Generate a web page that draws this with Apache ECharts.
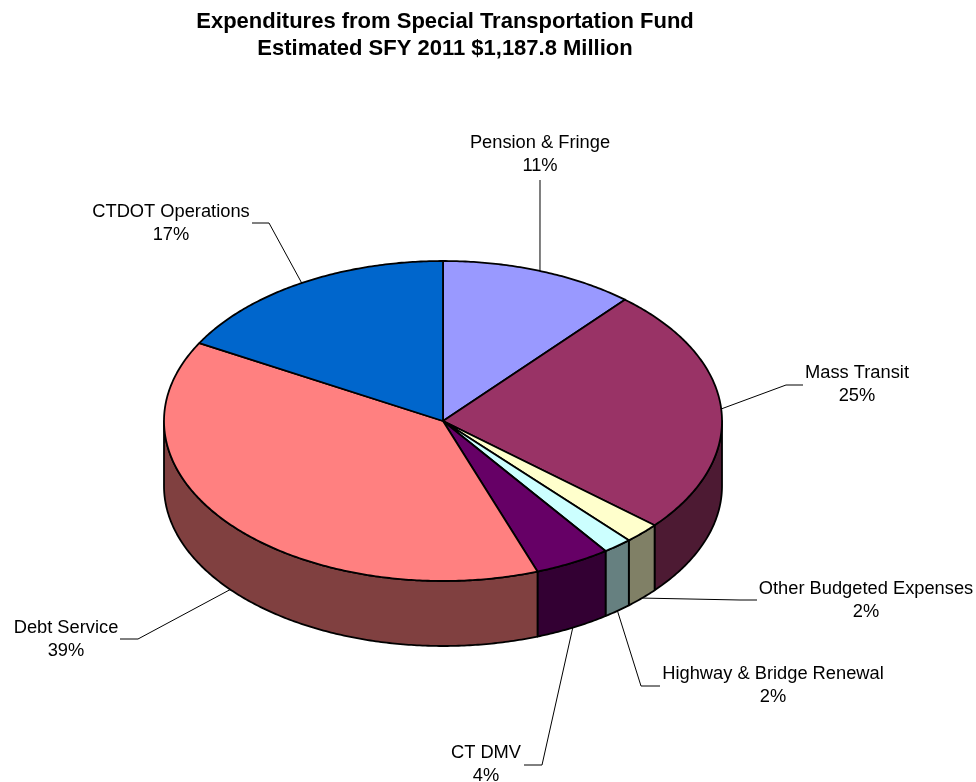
<!DOCTYPE html>
<html>
<head>
<meta charset="utf-8">
<style>
  html, body { margin: 0; padding: 0; background: #fff; }
  #chart { width: 976px; height: 782px; }
</style>
<script src="https://cdn.jsdelivr.net/npm/echarts@6/dist/echarts.min.js"></script>
</head>
<body>
<div id="chart"></div>
<script>
// clockwise from 12 o'clock
const categories = ["Pension & Fringe", "Mass Transit", "Other Budgeted Expenses", "Highway & Bridge Renewal", "CT DMV", "Debt Service", "CTDOT Operations"];
const values = [11.3, 25.0, 2.1, 1.7, 4.4, 38.6, 16.9];
const topColors = ["#9999ff", "#993366", "#ffffcc", "#ccffff", "#660066", "#ff8080", "#0066cc"];
const sideColors = ["#4d4d80", "#4d1a33", "#808066", "#668080", "#330033", "#804040", "#003366"];

// label centre x, first text line y, leader line points before the pie
const labelLayout = {
  "Pension & Fringe": { x: 540, y: 143, line: [[540, 180]] },
  "CTDOT Operations": { x: 171, y: 212, line: [[252, 223], [269, 223]] },
  "Mass Transit": { x: 857, y: 373, line: [[803, 385], [786, 385]] },
  "Other Budgeted Expenses": { x: 866, y: 589, line: [[757, 600], [740, 600]] },
  "Highway & Bridge Renewal": { x: 773, y: 674, line: [[660, 686], [641, 686]] },
  "CT DMV": { x: 486, y: 753, line: [[524, 765], [542, 765]] },
  "Debt Service": { x: 66, y: 628, line: [[120, 639], [138, 639]] },
};

const cx = 443, cy = 421, rx = 279, ry = 160, depth = 65;
const fontName = "Liberation Sans";
const total = values.reduce((a, b) => a + b, 0);

// angles in radians, 0 = top, clockwise
function sliceAngles(i) {
  let sum = 0;
  for (let k = 0; k < i; k++) sum += values[k];
  return [sum / total * Math.PI * 2, (sum + values[i]) / total * Math.PI * 2];
}
function pt(t, dy) {
  return [cx + rx * Math.sin(t), cy - ry * Math.cos(t) + (dy || 0)];
}
function arc(a, b, dy) {
  const pts = [];
  const n = Math.max(2, Math.ceil((b - a) / 0.01));
  for (let k = 0; k <= n; k++) pts.push(pt(a + (b - a) * k / n, dy));
  return pts;
}

function renderSide(params) {
  const i = params.dataIndex;
  const ang = sliceAngles(i);
  const a = Math.max(ang[0], Math.PI / 2);
  const b = Math.min(ang[1], Math.PI * 1.5);
  if (b <= a) return null;
  const points = arc(a, b, 0).concat(arc(a, b, depth).reverse());
  return {
    type: "polygon",
    shape: { points: points },
    style: { fill: sideColors[i], stroke: "#000", lineWidth: 1.8, lineJoin: "round" },
  };
}

function renderTop(params) {
  const i = params.dataIndex;
  const ang = sliceAngles(i);
  const points = [[cx, cy]].concat(arc(ang[0], ang[1], 0));
  return {
    type: "polygon",
    shape: { points: points },
    style: { fill: topColors[i], stroke: "#000", lineWidth: 1.8, lineJoin: "round" },
  };
}

function renderLabel(params) {
  const i = params.dataIndex;
  const ang = sliceAngles(i);
  const mid = (ang[0] + ang[1]) / 2;
  const front = Math.cos(mid) < 0;
  const layout = labelLayout[categories[i]];
  const children = [
    {
      type: "polyline",
      shape: { points: layout.line.concat([pt(mid, front ? depth : 0)]) },
      style: { fill: null, stroke: "#000", lineWidth: 1 },
    },
    {
      type: "text",
      style: {
        x: layout.x, y: layout.y,
        text: categories[i] + "\n" + Math.round(values[i]) + "%",
        fill: "#000", font: "18.3px '" + fontName + "'",
        align: "center", verticalAlign: "middle", lineHeight: 23.3,
      },
      y: 11.5,
    },
  ];
  return { type: "group", children: children };
}

const chart = echarts.init(document.getElementById("chart"), null, { renderer: "canvas" });
const seriesData = categories.map((name, i) => ({ name: name, value: values[i] }));
const customBase = { type: "custom", coordinateSystem: "none", data: seriesData, silent: true, animation: false };
chart.setOption({
  animation: false,
  backgroundColor: "#ffffff",
  title: {
    text: "Expenditures from Special Transportation Fund\nEstimated SFY 2011 $1,187.8 Million",
    left: 440, top: 3, textAlign: "center",
    textStyle: { fontFamily: fontName, fontSize: 22, fontWeight: "bold", color: "#000", lineHeight: 27 },
  },
  series: [
    Object.assign({}, customBase, { name: "side", renderItem: renderSide, z: 1 }),
    Object.assign({}, customBase, { name: "top", renderItem: renderTop, z: 2 }),
    Object.assign({}, customBase, { name: "labels", renderItem: renderLabel, z: 3 }),
  ],
});
</script>
</body>
</html>
